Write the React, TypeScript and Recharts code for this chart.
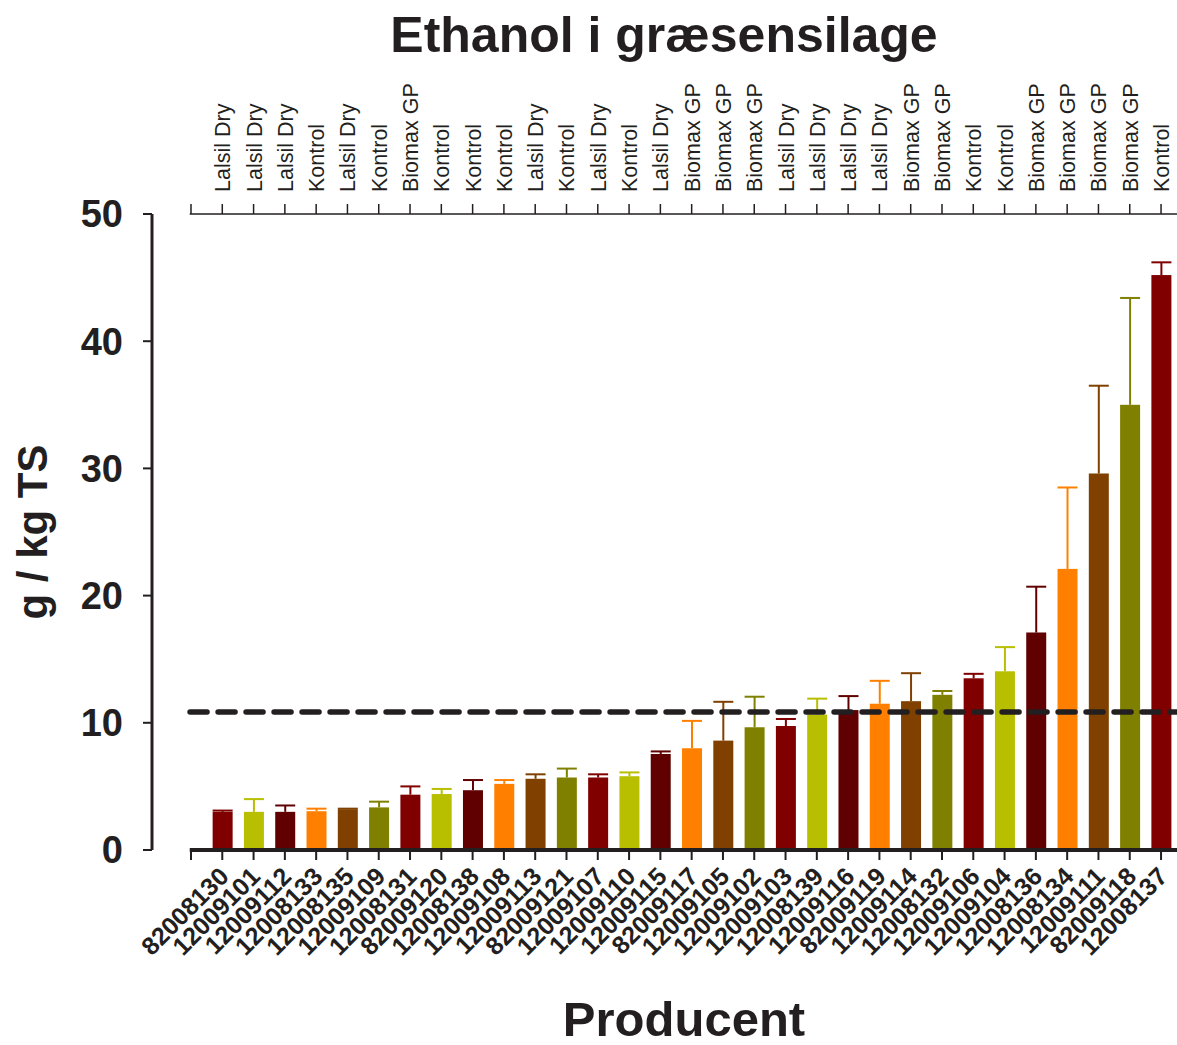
import React from "react";
import { Bar, BarChart, ReferenceLine, XAxis, YAxis } from "recharts";

const producers = [
  "82008130", "12009101", "12009112", "12008133", "12008135", "12009109", "12008131", "82009120",
  "12008138", "12009108", "12009113", "82009121", "12009107", "12009110", "12009115", "82009117",
  "12009105", "12009102", "12009103", "12008139", "12009116", "82009119", "12009114", "12008132",
  "12009106", "12009104", "12008136", "12008134", "12009111", "82009118", "12008137",
];

const treatments = [
  "Lalsil Dry", "Lalsil Dry", "Lalsil Dry", "Kontrol", "Lalsil Dry", "Kontrol", "Biomax GP", "Kontrol",
  "Kontrol", "Kontrol", "Lalsil Dry", "Kontrol", "Lalsil Dry", "Kontrol", "Lalsil Dry", "Biomax GP",
  "Biomax GP", "Biomax GP", "Lalsil Dry", "Lalsil Dry", "Lalsil Dry", "Lalsil Dry", "Biomax GP", "Biomax GP",
  "Kontrol", "Kontrol", "Biomax GP", "Biomax GP", "Biomax GP", "Biomax GP", "Kontrol",
];

const ethanol = [
  3.0, 3.0, 3.0, 3.05, 3.2, 3.35, 4.35, 4.4, 4.7, 5.2, 5.6, 5.7, 5.7, 5.8, 7.55, 8.0,
  8.6, 9.65, 9.75, 10.65, 11.0, 11.5, 11.7, 12.2, 13.5, 14.05, 17.1, 22.1, 29.6, 35.0, 45.2,
];

const ethanolErr = [
  0.1, 1.0, 0.5, 0.2, 0.05, 0.45, 0.65, 0.4, 0.8, 0.3, 0.35, 0.7, 0.25, 0.3, 0.2, 2.15,
  3.05, 2.4, 0.55, 1.25, 1.1, 1.8, 2.2, 0.3, 0.35, 1.9, 3.6, 6.4, 6.9, 8.4, 1.0,
];

const average = 10.85;
const yTicks = [0, 10, 20, 30, 40, 50];
const xTicks = producers.map((_, i) => i);
xTicks.push(producers.length);

const colors = ["#800000", "#b8bf00", "#600000", "#ff8000", "#804000", "#808000"];

const data = producers.map((p, i) => ({
  pos: i + 1,
  producer: p,
  treatment: treatments[i],
  value: ethanol[i],
  err: ethanolErr[i],
}));

const FONT = "'Liberation Sans', Arial, Helvetica, sans-serif";
const INK = "#231f20";

const BarWithError = (props: any) => {
  const { x, y, width, height, payload, index } = props;
  const color = colors[index % colors.length];
  const ppu = height / payload.value;
  const top = y - payload.err * ppu;
  const cx = x + width / 2;
  return (
    <g>
      <rect x={x} y={y} width={width} height={height} fill={color} />
      <line x1={cx} y1={y} x2={cx} y2={top} stroke={color} strokeWidth={2} />
      <line x1={x} y1={top} x2={x + width} y2={top} stroke={color} strokeWidth={2} />
    </g>
  );
};

const BottomTick = (props: any) => {
  const { x, y, payload } = props;
  const label = producers[payload.value - 1];
  if (!label) return <g />;
  const ax = x + 8;
  const ay = y + 16;
  return (
    <text
      x={ax}
      y={ay}
      transform={`rotate(-45, ${ax}, ${ay})`}
      textAnchor="end"
      fontFamily={FONT}
      fontWeight="bold"
      fontSize={25}
      fill={INK}
    >
      {label}
    </text>
  );
};

const TopTick = (props: any) => {
  const { x, y, payload } = props;
  const label = treatments[payload.value - 1];
  if (!label) return <g />;
  const ax = x + 8;
  const ay = y - 10;
  return (
    <text
      x={ax}
      y={ay}
      transform={`rotate(-90, ${ax}, ${ay})`}
      textAnchor="start"
      fontFamily={FONT}
      fontSize={21.5}
      fill={INK}
    >
      {label}
    </text>
  );
};

export default function App() {
  return (
    <div style={{ position: "absolute", left: 0, top: 0, width: 1177, height: 1045, background: "#fff" }}>
      <BarChart
        width={1177}
        height={1045}
        data={data}
        margin={{ top: 14, right: 0, left: 52, bottom: 45 }}
        barSize={20}
      >
        <XAxis
          dataKey="pos"
          type="number"
          domain={[-1.246, 31.51]}
          ticks={xTicks}
          interval={0}
          allowDataOverflow
          axisLine={false}
          tickLine={{ stroke: INK, strokeWidth: 2 }}
          tickSize={10}
          height={150}
          tick={<BottomTick />}
        />
        <XAxis
          xAxisId="top"
          orientation="top"
          dataKey="pos"
          type="number"
          domain={[-1.246, 31.51]}
          ticks={xTicks}
          interval={0}
          allowDataOverflow
          axisLine={false}
          tickLine={{ stroke: INK, strokeWidth: 1.5 }}
          tickSize={10}
          height={200}
          tick={<TopTick />}
        />
        <YAxis
          type="number"
          domain={[0, 50]}
          ticks={yTicks}
          interval={0}
          width={100}
          axisLine={{ stroke: INK, strokeWidth: 3 }}
          tickLine={{ stroke: INK, strokeWidth: 2 }}
          tickSize={9}
          tickMargin={20}
          tick={{ fill: INK, fontFamily: FONT, fontWeight: "bold", fontSize: 38 }}
        />
        <Bar dataKey="value" shape={<BarWithError />} isAnimationActive={false} />
        <ReferenceLine
          segment={[{ x: -0.04, y: 50 }, { x: 31.51, y: 50 }]}
          stroke={INK}
          strokeWidth={1.5}
          ifOverflow="visible"
        />
        <ReferenceLine
          segment={[{ x: -0.04, y: 0 }, { x: 31.51, y: 0 }]}
          stroke={INK}
          strokeWidth={4}
          ifOverflow="visible"
        />
        <ReferenceLine
          segment={[{ x: -0.03, y: average }, { x: 31.51, y: average }]}
          stroke={INK}
          strokeWidth={5.5}
          strokeDasharray="17 11"
          strokeLinecap="round"
          ifOverflow="visible"
        />
        <text x={664} y={52} textAnchor="middle" fontFamily={FONT} fontWeight="bold" fontSize={50} fill={INK}>
          Ethanol i græsensilage
        </text>
        <text
          x={47}
          y={532}
          transform="rotate(-90, 47, 532)"
          textAnchor="middle"
          fontFamily={FONT}
          fontWeight="bold"
          fontSize={42}
          fill={INK}
        >
          g / kg TS
        </text>
        <text x={684} y={1036} textAnchor="middle" fontFamily={FONT} fontWeight="bold" fontSize={49} fill={INK}>
          Producent
        </text>
      </BarChart>
    </div>
  );
}
